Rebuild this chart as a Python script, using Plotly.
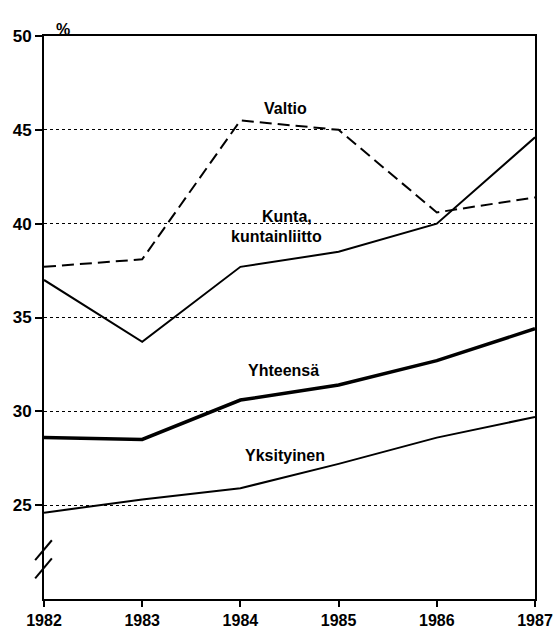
import plotly.graph_objects as go

years = [1982, 1983, 1984, 1985, 1986, 1987]
valtio = [37.7, 38.1, 45.5, 45.0, 40.6, 41.4]
kunta = [37.0, 33.7, 37.7, 38.5, 40.0, 44.6]
yhteensa = [28.6, 28.5, 30.6, 31.4, 32.7, 34.4]
yksityinen = [24.6, 25.3, 25.9, 27.2, 28.6, 29.7]
y_ticks = [25, 30, 35, 40, 45, 50]

FONT = "Liberation Sans"
fig = go.Figure()
fig.add_trace(go.Scatter(x=years, y=valtio, mode="lines", name="Valtio",
                         line=dict(color="black", width=2, dash="12px,6px")))
fig.add_trace(go.Scatter(x=years, y=kunta, mode="lines", name="Kunta, kuntainliitto",
                         line=dict(color="black", width=2)))
fig.add_trace(go.Scatter(x=years, y=yhteensa, mode="lines", name="Yhteensä",
                         line=dict(color="black", width=3.5)))
fig.add_trace(go.Scatter(x=years, y=yksityinen, mode="lines", name="Yksityinen",
                         line=dict(color="black", width=2)))

labels = [
    (1984.46, 46.16, "Valtio"),
    (1984.47, 40.4, "Kunta,"),
    (1984.37, 39.3, "kuntainliitto"),
    (1984.44, 32.2, "Yhteensä"),
    (1984.45, 27.67, "Yksityinen"),
]
for x, y, t in labels:
    fig.add_annotation(x=x, y=y, text=t, showarrow=False,
                       font=dict(family=FONT, size=16, color="black", weight="bold"))

fig.add_annotation(xref="paper", yref="paper", x=0.02, y=1.0, yshift=17,
                   text="%", showarrow=False,
                   font=dict(family=FONT, size=16, color="black", weight="bold"))

# axis break marks
for y0, y1 in [(22.07, 23.13), (21.1, 22.17)]:
    fig.add_shape(type="line", xref="paper", yref="y", x0=-0.018, x1=0.016,
                  y0=y0, y1=y1, line=dict(color="black", width=2))

fig.update_layout(
    width=554, height=631,
    margin=dict(l=44, r=19, t=36, b=32, autoexpand=False),
    plot_bgcolor="white", paper_bgcolor="white",
    showlegend=False,
    font=dict(family=FONT, color="black"),
)
fig.update_xaxes(range=[1982, 1987], tickvals=years, ticktext=[str(y) for y in years],
                 showgrid=False, zeroline=False, automargin=False,
                 showline=True, linecolor="black", linewidth=2, mirror=True,
                 ticks="outside", ticklen=6, tickwidth=2, tickcolor="black",
                 tickfont=dict(family=FONT, size=16, color="black", weight="bold"))
fig.update_yaxes(range=[20, 50], tickvals=y_ticks, ticktext=[str(v) for v in y_ticks],
                 showgrid=True, gridcolor="black", gridwidth=1, griddash="dot",
                 zeroline=False, automargin=False,
                 showline=True, linecolor="black", linewidth=2, mirror=True,
                 ticks="outside", ticklen=7, tickwidth=2, tickcolor="black",
                 tickfont=dict(family=FONT, size=17, color="black", weight="bold"))

fig.write_html("out.html", config={"displayModeBar": False},
               post_script="document.body.style.margin='0';document.body.style.overflow='hidden';")
